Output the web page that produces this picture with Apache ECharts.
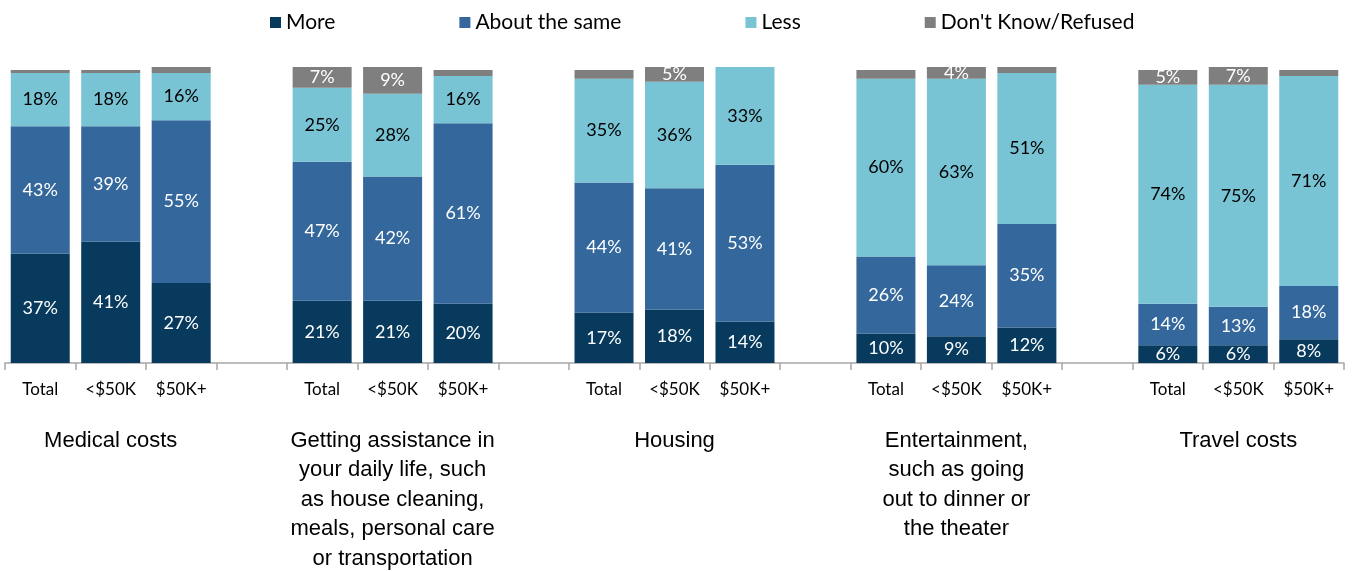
<!DOCTYPE html>
<html>
<head>
<meta charset="utf-8">
<script src="https://cdn.jsdelivr.net/npm/echarts@6/dist/echarts.min.js"></script>
<style>
html,body{margin:0;padding:0;background:#fff;}
#c{width:1352px;height:571px;}
</style>
</head>
<body>
<div id="c"></div>
<script>
// Categories (empty strings are spacer slots between groups)
const categories = ['Total','<$50K','$50K+','','Total','<$50K','$50K+','','Total','<$50K','$50K+','','Total','<$50K','$50K+','','Total','<$50K','$50K+'];
const groupTitles = ['Medical costs','Getting assistance in\nyour daily life, such\nas house cleaning,\nmeals, personal care\nor transportation','Housing','Entertainment,\nsuch as going\nout to dinner or\nthe theater','Travel costs'];
const seriesNames = ['More','About the same','Less',"Don't Know/Refused"];
const more = [37,41,27,null,21,21,20,null,17,18,14,null,10,9,12,null,6,6,8];
const same = [43,39,55,null,47,42,61,null,44,41,53,null,26,24,35,null,14,13,18];
const less = [18,18,16,null,25,28,16,null,35,36,33,null,60,63,51,null,74,75,71];
const dk   = [1,1,2,null,7,9,2,null,3,5,0,null,3,4,2,null,5,7,2];

const colors = ['#073a5d','#34679b','#78c4d4','#7f7f7f'];
const labelColors = ['#ffffff','#ffffff','#000000','#ffffff'];
const FONT = 'Lato';

const chart = echarts.init(document.getElementById('c'));
const allData = [more, same, less, dk];
const series = allData.map((d, i) => ({
  name: seriesNames[i],
  type: 'bar',
  stack: 'all',
  data: d,
  barWidth: 59,
  itemStyle: { color: colors[i] },
  emphasis: { disabled: true },
  label: {
    show: true,
    position: 'inside',
    color: labelColors[i],
    fontFamily: FONT,
    fontSize: 18,
    formatter: p => {
      if (p.value == null) return '';
      if (i === 3 && p.value < 4) return '';
      return p.value + '%';
    }
  }
}));

chart.setOption({
  animation: false,
  legend: {
    top: 7,
    left: 265,
    itemGap: 124,
    itemWidth: 11,
    itemHeight: 11,
    icon: 'rect',
    textStyle: { fontFamily: FONT, fontSize: 21, color: '#000' },
    data: seriesNames
  },
  grid: { left: 5, right: 8, top: 67, bottom: 208, containLabel: false, outerBoundsMode: 'none' },
  xAxis: [{
    type: 'category',
    data: categories,
    axisLine: { lineStyle: { color: '#a6a6a6', width: 1.5 } },
    axisTick: { show: true, length: 7, lineStyle: { color: '#a6a6a6', width: 1.5 } },
    axisLabel: { interval: 0, margin: 18, fontFamily: FONT, fontSize: 17, color: '#000' }
  }, {
    type: 'category',
    data: categories,
    position: 'bottom',
    axisLine: { show: false },
    axisTick: { show: false },
    axisLabel: {
      interval: 0,
      margin: 63,
      fontFamily: 'Liberation Sans',
      fontSize: 22,
      lineHeight: 29.5,
      color: '#000',
      align: 'center',
      formatter: (v, idx) => (idx % 4 === 1 ? groupTitles[(idx - 1) / 4] : '')
    }
  }],
  yAxis: { type: 'value', min: 0, max: 100, show: false },
  series: series
});
</script>
</body>
</html>
